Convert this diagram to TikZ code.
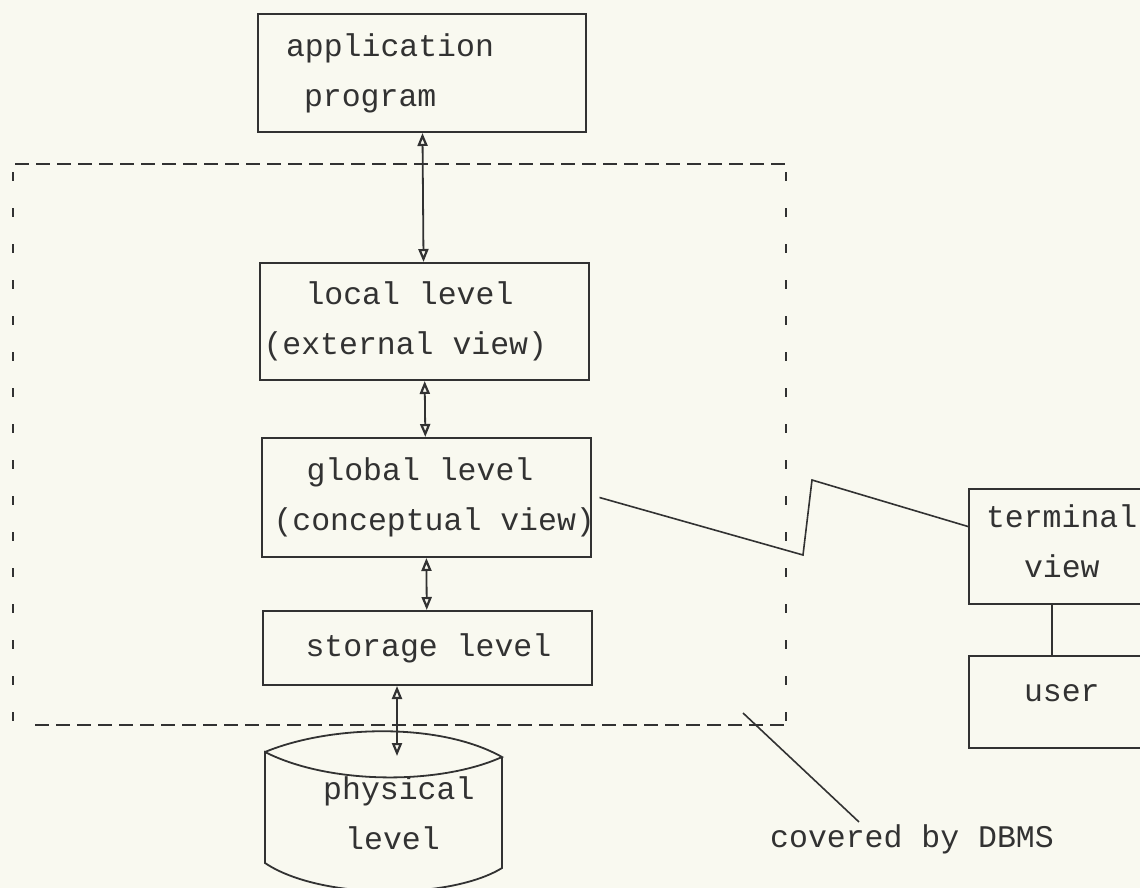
\documentclass[tikz,border=0pt]{standalone}
\usepackage{fontspec}
\setmonofont{Liberation Mono}
\usepackage{tikz}
\usetikzlibrary{arrows.meta,positioning}
\definecolor{paper}{RGB}{249,249,240}
\definecolor{ink}{RGB}{50,50,50}
\setlength{\parindent}{0pt}

\begin{document}
\begin{tikzpicture}
        [x=1pt,y=-1pt,
         every node/.style={font=\ttfamily\fontsize{31.5}{50}\selectfont,text=ink},
         viewbox/.style={rectangle,draw=ink,line width=2pt,align=flush left,inner ysep=0pt},
         twoway/.style={{Triangle[open,length=13pt,width=10pt,line width=2.2pt]}-{Triangle[open,length=13pt,width=10pt,line width=2.2pt]},draw=ink,line width=1.8pt},
         wire/.style={draw=ink,line width=1.6pt}]
        \fill[paper] (0,0) rectangle (1140,888);
        \useasboundingbox (0,0) rectangle (1140,888);

        \node [viewbox,name=app,anchor=north west,inner xsep=28pt,text width=272pt,minimum height=118pt] at (257,13) {application\\\hspace*{18pt}program};
        \node [viewbox,name=local,below=129pt of app,xshift=2pt,inner xsep=4pt,text width=321pt,minimum height=117pt] {\hspace*{42pt}local level\\(external view)};
        \node [viewbox,name=global,below=56pt of local,xshift=2pt,inner xsep=12pt,text width=305pt,minimum height=119pt] {\hspace*{33pt}global level\\\mbox{(conceptual view)}};
        \node [viewbox,name=storage,below=52pt of global,xshift=1pt,inner xsep=43pt,text width=243pt,minimum height=74pt] {\mbox{storage level}};

        \node [viewbox,name=term,anchor=north west,inner xsep=17pt,text width=158pt,minimum height=115pt] at (968,488) {terminal\\\hspace*{38pt}view\rule[-10pt]{0pt}{10pt}};
        \node [viewbox,name=user,below=50pt of term,inner xsep=55pt,text width=82pt,minimum height=92pt] {user\rule[-18pt]{0pt}{18pt}};

        \node [name=phys,anchor=north west,align=flush left,inner sep=0pt,text width=170pt] at (323,776) {physical\\\hspace*{22pt}level};
        \node [name=dbms,anchor=base west,inner sep=2pt] at (768,847) {covered by DBMS};

        \coordinate (physend) at (397,756);
        \coordinate (dbmsptr) at (743,713);

        \draw[ink,line width=2.2pt,dash pattern=on 14pt off 7pt] (15,164) -- (786,164);
        \draw[ink,line width=2.2pt,dash pattern=on 14pt off 7pt] (35,725) -- (786,725);
        \draw[ink,line width=1.8pt,dash pattern=on 9pt off 27pt] (13,172) -- (13,722);
        \draw[ink,line width=1.8pt,dash pattern=on 9pt off 27pt] (786,172) -- (786,722);

        \draw[ink,line width=1.8pt] (265,752) .. controls (330,725) and (440,722) .. (502,757)
              .. controls (440,785) and (330,785) .. (265,752) -- (265,863)
              .. controls (320,900) and (450,900) .. (502,868) -- (502,757);

        \path[twoway] (app) edge (local)
              (local) edge (global)
              (global) edge (storage);
        \draw[twoway] (storage.south -| physend) -- (physend);

        \draw[wire] ([xshift=8pt]global.east) -- (803,555) -- (812,480) -- ([yshift=20pt]term.west);
        \draw[wire] ([xshift=-13pt]term.south) -- ([xshift=-13pt]user.north);
        \draw[wire] (dbmsptr) -- ([xshift=-53pt]dbms.north);
    \end{tikzpicture}
\end{document}
